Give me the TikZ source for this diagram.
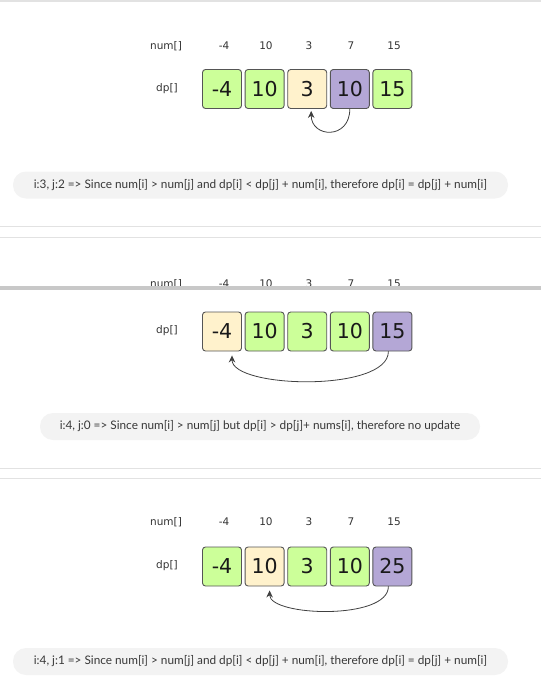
\documentclass[tikz,border=0pt]{standalone}
\usepackage{fontspec}
\setmainfont{Lato}
\newfontfamily\boxfont{DejaVu Sans}
\usetikzlibrary{arrows.meta}
\definecolor{cgreen}{RGB}{204,255,153}
\definecolor{cbeige}{RGB}{255,242,204}
\definecolor{cpurple}{RGB}{180,167,214}
\definecolor{cborder}{RGB}{85,85,85}
\definecolor{pillfill}{RGB}{243,243,243}
\definecolor{captxt}{RGB}{55,55,55}
\definecolor{sepline}{RGB}{226,226,226}
\definecolor{barcol}{RGB}{200,200,200}
\begin{document}
\begin{tikzpicture}[x=1pt,y=-1pt,
 cell/.style={draw=cborder, line width=0.9pt, rounded corners=3pt, minimum width=39pt, minimum height=39pt, inner sep=0pt, font=\fontsize{20.5}{20}\selectfont\boxfont, text=black!90},
 gcell/.style={cell, fill=cgreen},
 ycell/.style={cell, fill=cbeige},
 pcell/.style={cell, fill=cpurple},
 lbl/.style={font=\fontsize{10.5}{12}\selectfont\boxfont, text=black!80, inner sep=0pt},
 pill/.style={fill=pillfill, rounded corners=13pt, minimum height=27pt, inner sep=0pt, font=\fontsize{11.8}{13}\selectfont, text=captxt},
 link/.style={draw=black!75, line width=0.8pt, -{Stealth[length=7pt,width=6.5pt]}},
 sep/.style={draw=sepline, line width=1pt}
]
\useasboundingbox (0,0) rectangle (541,694);
\fill[sepline] (0,0) rectangle (541,1.5);

% ---------- panel 1 ----------
\node[lbl] (n1l) at (166,46) {num[]};
\node[lbl] (n1a) at (224,46) {-4};
\node[lbl] (n1b) at (266,46) {10};
\node[lbl] (n1c) at (309,46) {3};
\node[lbl] (n1d) at (351,46) {7};
\node[lbl] (n1e) at (394,46) {15};
\node[lbl] (d1l) at (167,89) {dp[]};
\node[gcell] (a1) at (222,89) {-4};
\node[gcell] (b1) at (264.6,89) {10};
\node[ycell] (c1) at (307.2,89) {3};
\node[pcell] (e1) at (349.8,89) {10};
\node[gcell] (f1) at (392.4,89) {15};
\draw[link] (e1.south) .. controls ([yshift=-31pt]e1.south) and ([xshift=4pt,yshift=-29pt]c1.south) .. ([xshift=4pt,yshift=-2pt]c1.south);
\node[pill, minimum width=495pt] (t1) at (260.5,185) {i:3, j:2 => Since num[i] > num[j] and dp[i] < dp[j] + num[i], therefore dp[i] = dp[j] + num[i]};

\draw[sep] (0,226) -- (541,226);
\draw[sep] (0,237) -- (541,237);

% ---------- panel 2 ----------
\node[lbl] (n2l) at (166,284) {num[]};
\node[lbl] (n2a) at (224,284) {-4};
\node[lbl] (n2b) at (266,284) {10};
\node[lbl] (n2c) at (309,284) {3};
\node[lbl] (n2d) at (351,284) {7};
\node[lbl] (n2e) at (394,284) {15};
\fill[barcol] (0,286) rectangle (541,289.5);
\node[lbl] (d2l) at (167,331) {dp[]};
\node[ycell] (a2) at (222,331.5) {-4};
\node[gcell] (b2) at (264.6,331.5) {10};
\node[gcell] (c2) at (307.2,331.5) {3};
\node[gcell] (e2) at (349.8,331.5) {10};
\node[pcell] (f2) at (392.4,331.5) {15};
\draw[link] ([xshift=-4pt]f2.south) .. controls ([xshift=-4pt,yshift=-41pt]f2.south) and ([xshift=10pt,yshift=-37pt]a2.south) .. ([xshift=10pt,yshift=-4pt]a2.south);
\node[pill, minimum width=440pt] (t2) at (260,426.5) {i:4, j:0 => Since num[i] > num[j] but dp[i] > dp[j]+ nums[i], therefore no update};

\draw[sep] (0,468) -- (541,468);
\draw[sep] (0,478) -- (541,478);

% ---------- panel 3 ----------
\node[lbl] (n3l) at (166,522) {num[]};
\node[lbl] (n3a) at (224,522) {-4};
\node[lbl] (n3b) at (266,522) {10};
\node[lbl] (n3c) at (309,522) {3};
\node[lbl] (n3d) at (351,522) {7};
\node[lbl] (n3e) at (394,522) {15};
\node[lbl] (d3l) at (167,566) {dp[]};
\node[gcell] (a3) at (222,566.5) {-4};
\node[ycell] (b3) at (264.6,566.5) {10};
\node[gcell] (c3) at (307.2,566.5) {3};
\node[gcell] (e3) at (349.8,566.5) {10};
\node[pcell] (f3) at (392.4,566.5) {25};
\draw[link] ([xshift=-4pt]f3.south) .. controls ([xshift=-4pt,yshift=-34pt]f3.south) and ([xshift=5pt,yshift=-30pt]b3.south) .. ([xshift=5pt,yshift=-4pt]b3.south);
\node[pill, minimum width=495pt] (t3) at (260.5,661.5) {i:4, j:1 => Since num[i] > num[j] and dp[i] < dp[j] + num[i], therefore dp[i] = dp[j] + num[i]};
\end{tikzpicture}
\end{document}
